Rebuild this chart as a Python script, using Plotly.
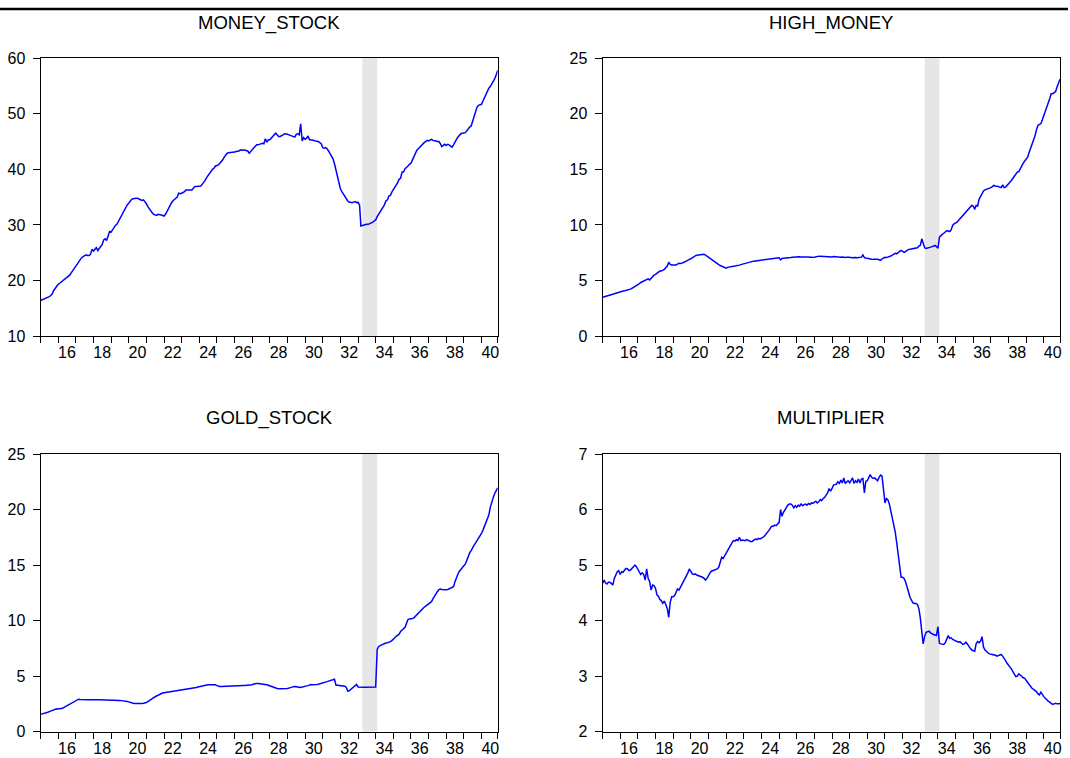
import plotly.graph_objects as go

# Monthly observations, 1915M01 - 1940M12 (one row per year)
YEARS = list(range(1915, 1941))
MONTHS = [f"{y}-{m:02d}-01" for y in YEARS for m in range(1, 13)]

MONEY_STOCK = [
    16.4, 16.5, 16.6, 16.7, 16.8, 16.9, 17.1, 17.3, 17.6, 18.2, 18.6, 18.9,
    19.3, 19.5, 19.7, 19.9, 20.1, 20.3, 20.5, 20.7, 21.0, 21.4, 21.8, 22.2,
    22.7, 23.1, 23.5, 23.8, 24.1, 24.3, 24.5, 24.6, 24.5, 24.5, 24.7, 25.6,
    25.3, 25.7, 25.9, 25.4, 25.7, 26.1, 26.5, 27.3, 27.5, 27.2, 28.0, 28.8,
    28.7, 29.1, 29.6, 29.9, 30.1, 30.6, 31.1, 31.6, 32.2, 32.8, 33.2, 33.6,
    33.9, 34.3, 34.6, 34.7, 34.8, 34.8, 34.8, 34.7, 34.6, 34.4, 34.5, 34.2,
    33.8, 33.3, 32.9, 32.5, 32.2, 31.9, 31.8, 31.7, 31.9, 31.9, 31.8, 31.7,
    31.6, 31.9, 32.4, 33.0, 33.5, 33.9, 34.3, 34.6, 34.8, 35.0, 35.7, 35.6,
    35.7, 35.8, 36.0, 36.3, 36.3, 36.3, 36.4, 36.3, 36.6, 36.9, 36.9, 36.9,
    36.9, 37.0, 37.3, 37.6, 38.0, 38.5, 38.9, 39.4, 39.7, 40.0, 40.2, 40.6,
    40.7, 40.8, 41.1, 41.4, 41.7, 42.2, 42.6, 42.9, 43.0, 43.0, 43.1, 43.1,
    43.1, 43.2, 43.2, 43.3, 43.5, 43.4, 43.5, 43.4, 43.4, 43.3, 42.9, 43.2,
    43.6, 44.0, 44.2, 44.4, 44.4, 44.5, 44.6, 44.7, 44.6, 45.5, 44.9, 45.3,
    45.3, 45.6, 45.9, 46.3, 46.5, 46.2, 45.9, 45.9, 46.0, 46.2, 46.4, 46.4,
    46.3, 46.2, 46.1, 46.0, 45.9, 45.8, 46.3, 46.4, 46.2, 48.2, 45.1, 45.7,
    45.4, 45.6, 46.0, 45.3, 45.3, 45.3, 45.2, 45.1, 45.1, 45.0, 44.8, 44.6,
    43.9, 43.8, 43.9, 43.7, 43.3, 42.9, 42.4, 41.9, 41.0, 39.8, 38.7, 37.9,
    36.5, 36.0, 35.6, 35.1, 34.7, 34.3, 34.1, 34.0, 34.0, 34.1, 34.2, 34.0,
    34.1, 33.6, 29.8, 29.9, 30.0, 30.0, 30.1, 30.1, 30.2, 30.3, 30.5, 30.7,
    30.9, 31.5, 31.9, 32.3, 32.6, 33.3, 33.6, 34.3, 34.5, 35.2, 35.3, 35.9,
    36.3, 36.8, 37.0, 37.6, 38.2, 38.4, 39.5, 39.5, 40.1, 40.3, 40.6, 40.9,
    41.1, 41.7, 42.2, 43.0, 43.4, 43.7, 44.0, 44.3, 44.6, 44.8, 45.0, 45.2,
    45.1, 45.3, 45.4, 45.2, 45.2, 45.1, 45.0, 45.0, 44.6, 44.1, 44.3, 44.5,
    44.3, 44.5, 44.4, 44.1, 44.0, 44.4, 45.0, 45.4, 45.8, 46.1, 46.4, 46.5,
    46.5, 46.6, 46.9, 47.3, 47.6, 47.8, 48.6, 49.5, 50.3, 51.2, 51.5, 51.6,
    51.7, 52.3, 52.9, 53.5, 54.1, 54.6, 54.9, 55.3, 55.8, 56.3, 57.0, 57.8,
]

HIGH_MONEY = [
    3.49, 3.52, 3.56, 3.60, 3.64, 3.68, 3.72, 3.76, 3.80, 3.85, 3.89, 3.93,
    4.00, 4.04, 4.06, 4.08, 4.10, 4.13, 4.17, 4.22, 4.30, 4.37, 4.45, 4.53,
    4.62, 4.72, 4.82, 4.90, 4.97, 5.05, 5.10, 5.15, 5.05, 5.20, 5.35, 5.48,
    5.55, 5.65, 5.80, 5.85, 5.85, 5.90, 6.00, 6.15, 6.30, 6.65, 6.45, 6.40,
    6.40, 6.45, 6.40, 6.48, 6.55, 6.52, 6.60, 6.62, 6.68, 6.78, 6.80, 6.90,
    6.95, 7.05, 7.15, 7.22, 7.26, 7.28, 7.30, 7.31, 7.33, 7.35, 7.28, 7.18,
    7.05, 6.95, 6.85, 6.75, 6.67, 6.58, 6.50, 6.42, 6.35, 6.27, 6.20, 6.14,
    6.10, 6.18, 6.22, 6.24, 6.25, 6.28, 6.30, 6.31, 6.34, 6.38, 6.43, 6.47,
    6.52, 6.57, 6.62, 6.65, 6.68, 6.70, 6.72, 6.74, 6.76, 6.77, 6.78, 6.79,
    6.80, 6.82, 6.84, 6.87, 6.90, 6.93, 6.95, 6.97, 7.00, 7.02, 7.03, 7.05,
    7.04, 6.85, 6.98, 7.00, 7.00, 7.02, 7.03, 7.05, 7.06, 7.08, 7.10, 7.12,
    7.13, 7.14, 7.13, 7.12, 7.13, 7.12, 7.10, 7.11, 7.12, 7.09, 7.07, 7.08,
    7.10, 7.14, 7.18, 7.19, 7.17, 7.16, 7.15, 7.14, 7.13, 7.12, 7.15, 7.12,
    7.11, 7.15, 7.13, 7.10, 7.08, 7.06, 7.10, 7.11, 7.08, 7.07, 7.09, 7.10,
    7.09, 7.05, 7.07, 7.08, 7.06, 7.05, 7.08, 7.07, 7.10, 7.30, 7.05, 7.02,
    6.98, 6.95, 6.92, 6.92, 6.90, 6.91, 6.90, 6.90, 6.87, 6.82, 6.95, 7.05,
    7.08, 7.06, 7.10, 7.12, 7.20, 7.28, 7.35, 7.45, 7.40, 7.55, 7.62, 7.70,
    7.60, 7.52, 7.60, 7.72, 7.80, 7.82, 7.85, 7.86, 7.88, 7.90, 7.95, 8.10,
    8.15, 8.75, 8.30, 7.95, 7.88, 7.90, 7.95, 8.00, 8.05, 8.10, 8.15, 8.05,
    7.90, 8.90, 9.05, 9.15, 9.25, 9.40, 9.48, 9.45, 9.40, 9.55, 9.95, 10.10,
    10.15, 10.25, 10.40, 10.55, 10.70, 10.85, 11.00, 11.15, 11.35, 11.50, 11.55, 11.75,
    11.70, 11.40, 11.75, 11.70, 12.30, 12.60, 12.85, 13.05, 13.15, 13.20, 13.25, 13.25,
    13.35, 13.45, 13.55, 13.50, 13.50, 13.45, 13.40, 13.35, 13.60, 13.35, 13.40, 13.55,
    13.65, 13.80, 14.00, 14.20, 14.40, 14.60, 14.75, 14.80, 15.10, 15.40, 15.55, 15.75,
    15.95, 16.10, 16.50, 16.85, 17.20, 17.50, 18.00, 18.55, 18.95, 19.05, 19.10, 19.45,
    19.80, 20.15, 20.50, 20.90, 21.35, 21.80, 21.80, 21.90, 22.00, 22.40, 22.70, 23.10,
]

GOLD_STOCK = [
    1.55, 1.58, 1.61, 1.65, 1.70, 1.75, 1.80, 1.86, 1.92, 1.98, 2.03, 2.05,
    2.04, 2.04, 2.05, 2.10, 2.18, 2.25, 2.32, 2.38, 2.45, 2.52, 2.60, 2.68,
    2.78, 2.86, 2.92, 2.90, 2.88, 2.87, 2.86, 2.86, 2.86, 2.86, 2.85, 2.85,
    2.85, 2.85, 2.85, 2.86, 2.86, 2.86, 2.86, 2.86, 2.85, 2.85, 2.85, 2.85,
    2.85, 2.85, 2.85, 2.86, 2.86, 2.84, 2.80, 2.79, 2.78, 2.80, 2.77, 2.72,
    2.68, 2.62, 2.57, 2.55, 2.54, 2.53, 2.52, 2.52, 2.52, 2.53, 2.55, 2.57,
    2.62, 2.70, 2.80, 2.90, 2.98, 3.06, 3.14, 3.22, 3.30, 3.37, 3.42, 3.47,
    3.49, 3.51, 3.53, 3.55, 3.57, 3.59, 3.61, 3.63, 3.65, 3.68, 3.70, 3.72,
    3.73, 3.74, 3.75, 3.77, 3.79, 3.82, 3.85, 3.88, 3.91, 3.94, 3.97, 4.01,
    4.04, 4.08, 4.12, 4.16, 4.19, 4.21, 4.21, 4.21, 4.21, 4.21, 4.21, 4.21,
    4.14, 4.07, 4.06, 4.06, 4.07, 4.07, 4.08, 4.09, 4.10, 4.10, 4.11, 4.11,
    4.12, 4.12, 4.13, 4.14, 4.14, 4.15, 4.15, 4.15, 4.16, 4.17, 4.17, 4.18,
    4.22, 4.28, 4.33, 4.34, 4.33, 4.32, 4.30, 4.29, 4.28, 4.25, 4.22, 4.18,
    4.12, 4.08, 4.05, 4.00, 3.93, 3.88, 3.85, 3.85, 3.85, 3.85, 3.85, 3.86,
    3.88, 3.92, 3.97, 4.02, 4.05, 4.06, 4.06, 4.04, 4.00, 3.97, 4.02, 4.08,
    4.10, 4.12, 4.14, 4.20, 4.24, 4.21, 4.20, 4.22, 4.24, 4.27, 4.30, 4.33,
    4.37, 4.42, 4.45, 4.50, 4.55, 4.60, 4.66, 4.70, 4.72, 4.20, 4.18, 4.17,
    4.15, 4.13, 4.12, 4.09, 4.00, 3.65, 3.68, 3.80, 3.92, 4.00, 4.10, 4.25,
    4.02, 4.00, 4.00, 4.00, 4.00, 4.00, 4.00, 4.00, 4.00, 4.00, 4.00, 4.00,
    4.02, 7.40, 7.65, 7.75, 7.82, 7.88, 7.95, 7.98, 8.00, 8.02, 8.10, 8.20,
    8.30, 8.45, 8.58, 8.68, 8.78, 9.02, 9.15, 9.28, 9.40, 9.75, 10.10, 10.15,
    10.15, 10.18, 10.25, 10.40, 10.55, 10.68, 10.78, 10.90, 11.05, 11.20, 11.30, 11.40,
    11.45, 11.55, 11.70, 11.95, 12.20, 12.40, 12.60, 12.80, 12.85, 12.80, 12.78, 12.78,
    12.78, 12.80, 12.85, 12.90, 12.98, 13.05, 13.50, 13.95, 14.20, 14.45, 14.60, 14.75,
    14.90, 15.10, 15.40, 15.80, 16.10, 16.30, 16.60, 16.80, 17.00, 17.20, 17.40, 17.60,
    17.85, 18.15, 18.45, 18.75, 19.05, 19.50, 20.20, 20.75, 21.10, 21.45, 21.70, 21.95,
]

MULTIPLIER = [
    4.67, 4.73, 4.68, 4.66, 4.69, 4.69, 4.67, 4.64, 4.76, 4.83, 4.88, 4.90,
    4.83, 4.88, 4.87, 4.91, 4.94, 4.93, 4.90, 4.91, 4.94, 4.97, 5.00, 4.97,
    4.92, 4.88, 4.83, 4.86, 4.83, 4.73, 4.93, 4.76, 4.70, 4.55, 4.64, 4.63,
    4.58, 4.46, 4.44, 4.38, 4.36, 4.31, 4.35, 4.29, 4.22, 4.06, 4.33, 4.43,
    4.43, 4.45, 4.51, 4.57, 4.55, 4.60, 4.66, 4.71, 4.76, 4.80, 4.86, 4.93,
    4.87, 4.84, 4.83, 4.84, 4.82, 4.81, 4.81, 4.80, 4.78, 4.76, 4.73, 4.76,
    4.82, 4.86, 4.89, 4.90, 4.91, 4.92, 4.93, 4.96, 5.06, 5.14, 5.12, 5.17,
    5.20, 5.28, 5.31, 5.35, 5.40, 5.44, 5.43, 5.46, 5.44, 5.50, 5.44, 5.45,
    5.45, 5.44, 5.46, 5.45, 5.44, 5.42, 5.43, 5.45, 5.47, 5.46, 5.48, 5.47,
    5.48, 5.50, 5.52, 5.55, 5.58, 5.62, 5.66, 5.70, 5.70, 5.72, 5.71, 5.74,
    5.77, 6.00, 5.88, 5.95, 6.00, 6.05, 6.08, 6.10, 6.10, 6.08, 6.03, 6.07,
    6.04, 6.08, 6.06, 6.10, 6.07, 6.09, 6.10, 6.08, 6.11, 6.09, 6.12, 6.11,
    6.13, 6.15, 6.12, 6.14, 6.18, 6.16, 6.20, 6.22, 6.26, 6.30, 6.38, 6.33,
    6.38, 6.44, 6.45, 6.46, 6.50, 6.47, 6.53, 6.48, 6.57, 6.47, 6.50, 6.52,
    6.48, 6.53, 6.57, 6.47, 6.52, 6.49, 6.55, 6.48, 6.55, 6.56, 6.30, 6.51,
    6.52, 6.58, 6.63, 6.58, 6.56, 6.57, 6.54, 6.52, 6.58, 6.62, 6.60, 6.35,
    6.12, 6.20, 6.18, 6.10, 5.98, 5.85, 5.78, 5.60, 5.40, 5.20, 4.95, 4.78,
    4.78, 4.76, 4.70, 4.62, 4.52, 4.42, 4.36, 4.32, 4.31, 4.31, 4.29, 4.22,
    4.05, 3.75, 3.58, 3.72, 3.79, 3.80, 3.81, 3.78, 3.76, 3.75, 3.74, 3.73,
    3.89, 3.59, 3.58, 3.58, 3.57, 3.60, 3.66, 3.73, 3.68, 3.69, 3.66, 3.65,
    3.63, 3.62, 3.61, 3.62, 3.59, 3.57, 3.58, 3.61, 3.58, 3.53, 3.50, 3.47,
    3.46, 3.45, 3.58, 3.62, 3.60, 3.63, 3.71, 3.52, 3.47, 3.44, 3.42, 3.40,
    3.40, 3.39, 3.38, 3.38, 3.36, 3.37, 3.38, 3.39, 3.36, 3.33, 3.28, 3.23,
    3.20, 3.17, 3.13, 3.08, 3.03, 2.99, 3.00, 3.04, 3.02, 2.99, 2.97, 2.96,
    2.92, 2.89, 2.85, 2.81, 2.78, 2.76, 2.74, 2.72, 2.68, 2.66, 2.71, 2.66,
    2.63, 2.60, 2.57, 2.55, 2.53, 2.50, 2.49, 2.50, 2.51, 2.50, 2.50, 2.50,
]

TITLES = ["MONEY_STOCK", "HIGH_MONEY", "GOLD_STOCK", "MULTIPLIER"]
SERIES = [MONEY_STOCK, HIGH_MONEY, GOLD_STOCK, MULTIPLIER]
Y_RANGES = [(10, 60), (0, 25), (0, 25), (2, 7)]
Y_STEPS = [10, 5, 5, 1]

# Shaded period (first and last shaded month)
SHADE_START = "1933-04-01"
SHADE_END = "1934-02-01"

# Year labels every other year, centred within the year
LABEL_YEARS = list(range(1916, 1941, 2))
LABEL_POS = [f"{y}-07-01" for y in LABEL_YEARS]
LABEL_TEXT = [f"{y % 100:02d}" for y in LABEL_YEARS]
YEAR_TICKS = [f"{y}-01-01" for y in YEARS] + [MONTHS[-1]]

W, H = 1070, 758
FONT = "Arial, 'Liberation Sans', sans-serif"
LINE_BLUE = "#0000FF"
SHADE = "#E6E6E6"

# Panel boxes in layout pixels: (left, right, top, bottom, title centre)
BOXES = [
    (40.6, 498.6, 51.3, 335.6, 15.4),
    (603.7, 1062.0, 51.3, 335.6, 15.4),
    (40.6, 498.6, 456.3, 740.2, 419.0),
    (603.7, 1062.0, 456.3, 740.2, 419.0),
]

fig = go.Figure()
layout = dict(
    width=W, height=H,
    margin=dict(l=0, r=0, t=0, b=0, pad=0),
    paper_bgcolor="white", plot_bgcolor="white",
    showlegend=False,
    font=dict(family=FONT, color="#000000"),
    shapes=[], annotations=[],
)

for i, (title, vals, yr, ys, box) in enumerate(zip(TITLES, SERIES, Y_RANGES, Y_STEPS, BOXES)):
    n = "" if i == 0 else str(i + 1)
    xa, ya = "x" + n, "y" + n
    left, right, top, bottom, title_y = box
    fig.add_trace(go.Scatter(
        x=MONTHS, y=vals, mode="lines", xaxis=xa, yaxis=ya,
        line=dict(color=LINE_BLUE, width=1.5), hoverinfo="skip",
    ))
    layout["xaxis" + n] = dict(
        domain=[left / W, right / W], anchor=ya, type="date",
        range=[MONTHS[0], MONTHS[-1]],
        tickmode="array", tickvals=LABEL_POS, ticktext=LABEL_TEXT, ticks="",
        tickfont=dict(size=16, family=FONT, color="#000000"),
        ticklabelstandoff=2,
        minor=dict(tickmode="array", tickvals=YEAR_TICKS, ticks="outside",
                   ticklen=6, tickwidth=1, tickcolor="#000000", showgrid=False),
        showline=True, linecolor="#000000", linewidth=1, mirror=True,
        showgrid=False, zeroline=False, fixedrange=True,
    )
    layout["yaxis" + n] = dict(
        domain=[1 - bottom / H, 1 - top / H], anchor=xa,
        range=list(yr), tickmode="linear", tick0=yr[0], dtick=ys,
        ticks="outside", ticklen=7, tickwidth=1, tickcolor="#000000",
        tickfont=dict(size=16, family=FONT, color="#000000"),
        ticklabelstandoff=4,
        showline=True, linecolor="#000000", linewidth=1, mirror=True,
        showgrid=False, zeroline=False, fixedrange=True,
    )
    layout["shapes"].append(dict(
        type="rect", xref=xa, yref=ya + " domain", x0=SHADE_START, x1=SHADE_END,
        y0=0, y1=1, fillcolor=SHADE, line=dict(width=0), layer="below",
    ))
    layout["annotations"].append(dict(
        text=title, xref="paper", yref="paper",
        x=(left + right) / 2 / W, y=1 - title_y / H,
        xanchor="center", yanchor="middle", showarrow=False,
        font=dict(size=18.5, family=FONT, color="#000000"),
    ))

# Rule across the top of the page
layout["shapes"].append(dict(
    type="line", xref="paper", yref="paper", x0=0, x1=1,
    y0=1 - 1.0 / H, y1=1 - 1.0 / H, line=dict(color="#000000", width=2.5),
))

fig.update_layout(**layout)
fig.write_html("out.html")
